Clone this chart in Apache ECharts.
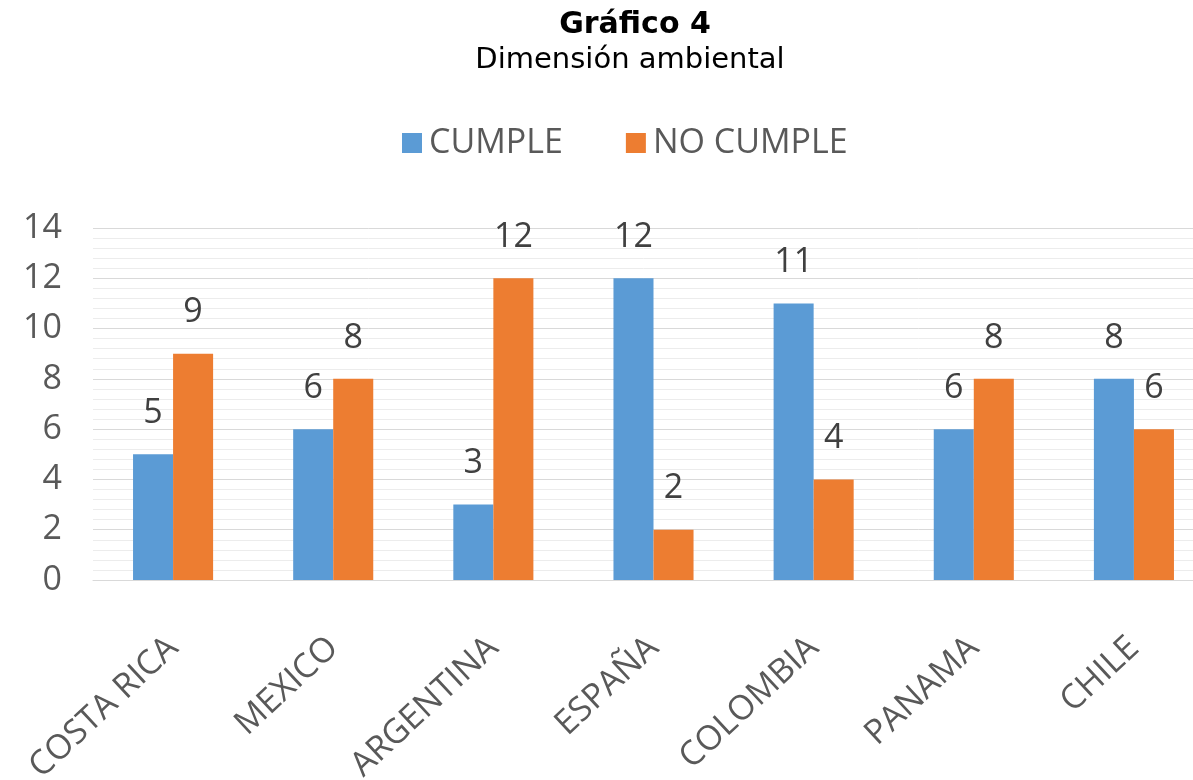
<!DOCTYPE html>
<html>
<head>
<meta charset="utf-8">
<script src="https://cdn.jsdelivr.net/npm/echarts@6/dist/echarts.min.js"></script>
<style>html,body{margin:0;padding:0;background:#fff;}#c{width:1193px;height:780px;}</style>
</head>
<body>
<div id="c"></div>
<script>
const categories = ['COSTA RICA', 'MEXICO', 'ARGENTINA', 'ESPAÑA', 'COLOMBIA', 'PANAMA', 'CHILE'];
const cumple = [5, 6, 3, 12, 11, 6, 8];
const noCumple = [9, 8, 12, 2, 4, 8, 6];
const seriesNames = ['CUMPLE', 'NO CUMPLE'];
const titleText = 'Gráfico 4';
const subtitleText = 'Dimensión ambiental';

const font = '"Open Sans", sans-serif';
const chart = echarts.init(document.getElementById('c'), null, {renderer: 'canvas'});
const labelCfg = {
  show: true, position: 'top', distance: 24,
  fontFamily: font, fontSize: 34, color: '#404040'
};
chart.setOption({
  animation: false,
  backgroundColor: '#ffffff',
  title: [
    {text: titleText, left: 630, top: 5, textAlign: 'center',
     textStyle: {fontFamily: '"DejaVu Sans", sans-serif', fontWeight: 'bold', fontSize: 30, color: '#000'}},
    {text: subtitleText, left: 625, top: 41, textAlign: 'center',
     textStyle: {fontFamily: '"DejaVu Sans", sans-serif', fontWeight: 'normal', fontSize: 29, color: '#000'}}
  ],
  legend: {
    data: seriesNames, left: 397, top: 121, icon: 'rect',
    itemWidth: 20, itemHeight: 20, itemGap: 63,
    textStyle: {fontFamily: font, fontSize: 34, color: '#595959', padding: [0, 0, 0, 2]}
  },
  grid: {left: 93, width: 1121, top: 228, height: 352, containLabel: false, outerBoundsMode: 'none'},
  xAxis: {
    type: 'category', data: categories,
    axisLine: {show: true, lineStyle: {color: '#d9d9d9', width: 1}},
    axisTick: {show: false},
    axisLabel: {rotate: 43, margin: 63, fontFamily: font, fontSize: 34, color: '#595959', interval: 0}
  },
  yAxis: {
    type: 'value', min: 0, max: 14, interval: 2,
    axisLine: {show: false}, axisTick: {show: false},
    axisLabel: {margin: 31, fontFamily: font, fontSize: 34, color: '#595959'},
    splitLine: {show: true, lineStyle: {color: '#d9d9d9', width: 1}},
    minorTick: {show: false, splitNumber: 5},
    minorSplitLine: {show: true, lineStyle: {color: '#ececec', width: 1}}
  },
  series: [
    {name: seriesNames[0], type: 'bar', data: cumple, barWidth: '25%', barGap: '0%',
     itemStyle: {color: '#5b9bd5'}, label: labelCfg},
    {name: seriesNames[1], type: 'bar', data: noCumple, barWidth: '25%', barGap: '0%',
     itemStyle: {color: '#ed7d31'}, label: labelCfg}
  ]
});
</script>
</body>
</html>
